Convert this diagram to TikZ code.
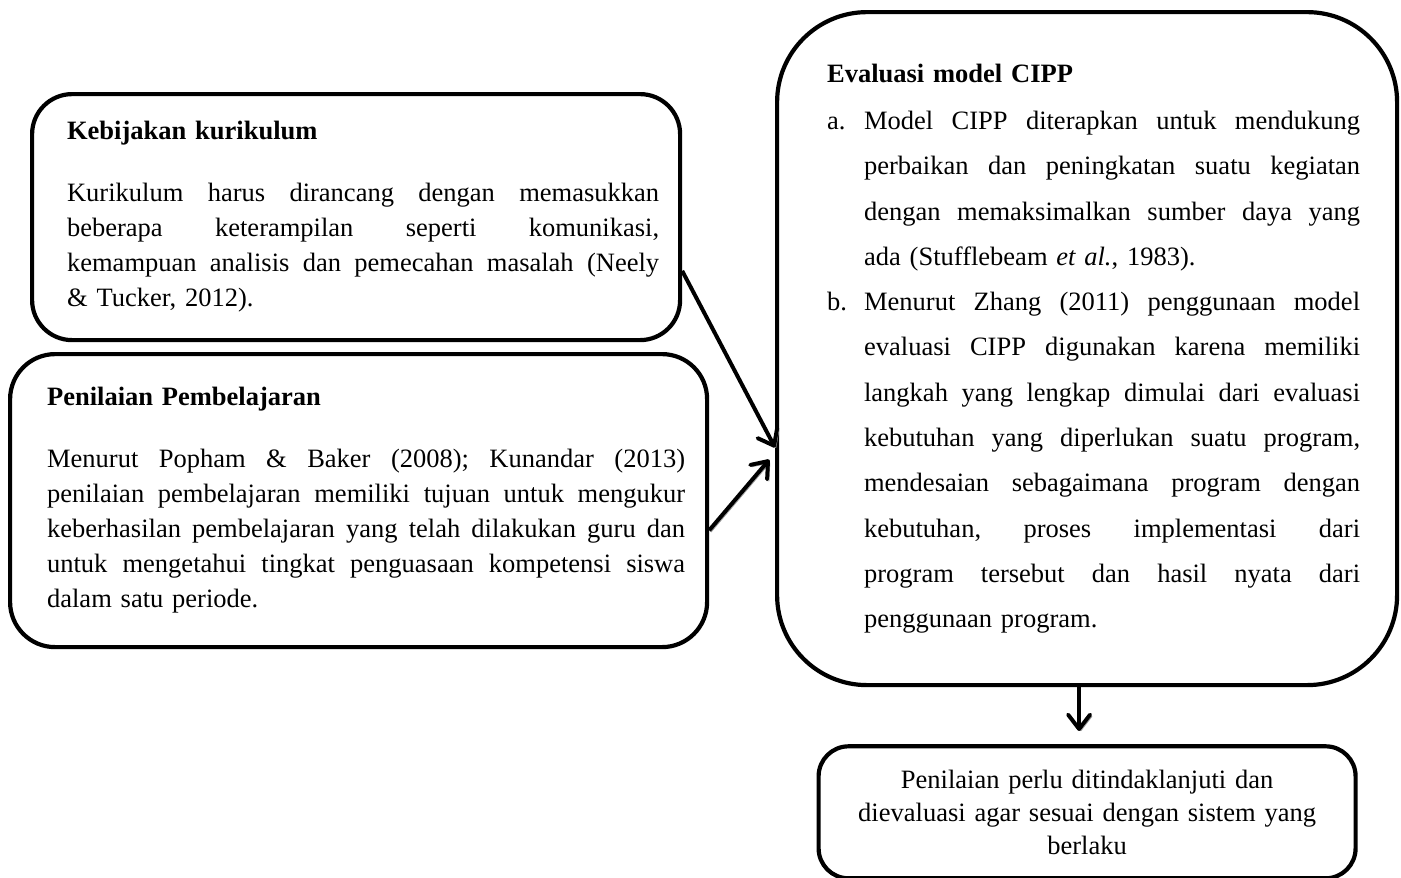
\documentclass[tikz,border=0pt]{standalone}
\usepackage{fontspec}
\setmainfont{Liberation Serif}
\usetikzlibrary{arrows.meta,
                calc,
                positioning}
% one pixel of the layout
\newlength{\px}
\setlength{\px}{0.4528pt}
\newlength{\hangw}
\setlength{\hangw}{37\px}
% justified line, hanging item line, last item line
\newcommand{\jspace}{\frenchspacing\spaceskip=0.25em plus 1em minus 0.05em}
\newcommand{\jline}[1]{{\jspace\makebox[\dimexpr\hsize-\leftskip\relax][s]{#1}}\par}
\newcommand{\iline}[2]{{\jspace\makebox[\hangw][l]{#1}\makebox[\dimexpr\hsize-\leftskip-\hangw\relax][s]{#2}}\par}
\newcommand{\ilast}[2]{\makebox[\hangw][l]{#1}#2\par}
\tikzset{
	%Define style for boxes
	kotak/.style={
	       rectangle,
	       draw=black, line width=1.9pt,
	       anchor=north west,
	       inner ysep=0pt,
	       font=\fontsize{12}{35\px}\selectfont},
	% Define arrow style
	panah/.style={
	       -{Straight Barb[length=6.5pt,width=10pt,round]},
	       line width=1.8pt,
	       preaction={draw=black!40, transform canvas={shift={(0.8pt,-0.8pt)}}}}
}
\begin{document}
\begin{tikzpicture}[x=\px, y=-\px]
	\useasboundingbox (0,0) rectangle (1401,877);
	\node[kotak, rounded corners=40\px, text width=606\px, inner xsep=21\px,
	      minimum height=246\px](kebijakan) at (30,92){%
		\leftskip=14\px
		\textbf{Kebijakan kurikulum}\par\vspace{27\px}
		\jline{Kurikulum harus dirancang dengan memasukkan}
		\jline{beberapa keterampilan seperti komunikasi,}
		\jline{kemampuan analisis dan pemecahan masalah (Neely}
		\& Tucker, 2012).\par};
	\node[kotak, rounded corners=45\px, text width=653\px, inner xsep=22\px,
	      minimum height=293\px](penilaian) at (8,352){%
		\leftskip=15\px
		\textbf{Penilaian Pembelajaran}\par\vspace{27\px}
		\jline{Menurut Popham \& Baker (2008); Kunandar (2013)}
		\jline{penilaian pembelajaran memiliki tujuan untuk mengukur}
		\jline{keberhasilan pembelajaran yang telah dilakukan guru dan}
		\jline{untuk mengetahui tingkat penguasaan kompetensi siswa}
		dalam satu periode.\par};
	\node[kotak, rounded corners=90\px, text width=546\px, inner xsep=37\px,
	      minimum height=673\px, font=\fontsize{12}{45.3\px}\selectfont](cipp) at (775,10){%
		\leftskip=13\px
		\textbf{Evaluasi model CIPP}\par\vspace{2\px}
		\iline{a.}{Model CIPP diterapkan untuk mendukung}
		\iline{}{perbaikan dan peningkatan suatu kegiatan}
		\iline{}{dengan memaksimalkan sumber daya yang}
		\ilast{}{ada (Stufflebeam \textit{et al.}, 1983).}
		\iline{b.}{Menurut Zhang (2011) penggunaan model}
		\iline{}{evaluasi CIPP digunakan karena memiliki}
		\iline{}{langkah yang lengkap dimulai dari evaluasi}
		\iline{}{kebutuhan yang diperlukan suatu program,}
		\iline{}{mendesaian sebagaimana program dengan}
		\iline{}{kebutuhan, proses implementasi dari}
		\iline{}{program tersebut dan hasil nyata dari}
		\ilast{}{penggunaan program.}\vspace{10\px}};
	\node[kotak, anchor=north, rounded corners=30\px, text width=490\px, inner xsep=23.5\px,
	      minimum height=132\px, align=center, font=\fontsize{12}{33\px}\selectfont,
	      below=57\px of cipp](tindak){%
		Penilaian perlu ditindaklanjuti dan\\
		dievaluasi agar sesuai dengan sistem yang\\
		berlaku};
	% arrows
	\draw[panah] ($(kebijakan.north east)!0.715!(kebijakan.south east)$)
		-- ($(cipp.north west)!0.646!(cipp.south west)$);
	\draw[panah, shorten >=4pt] ($(penilaian.north east)!0.60!(penilaian.south east)$)
		-- ($(cipp.north west)!0.654!(cipp.south west)$);
	\draw[panah, shorten >=6pt] ($(cipp.south)+(-8\px,0)$) -- ($(tindak.north)+(-8\px,0)$);
\end{tikzpicture}
\end{document}
